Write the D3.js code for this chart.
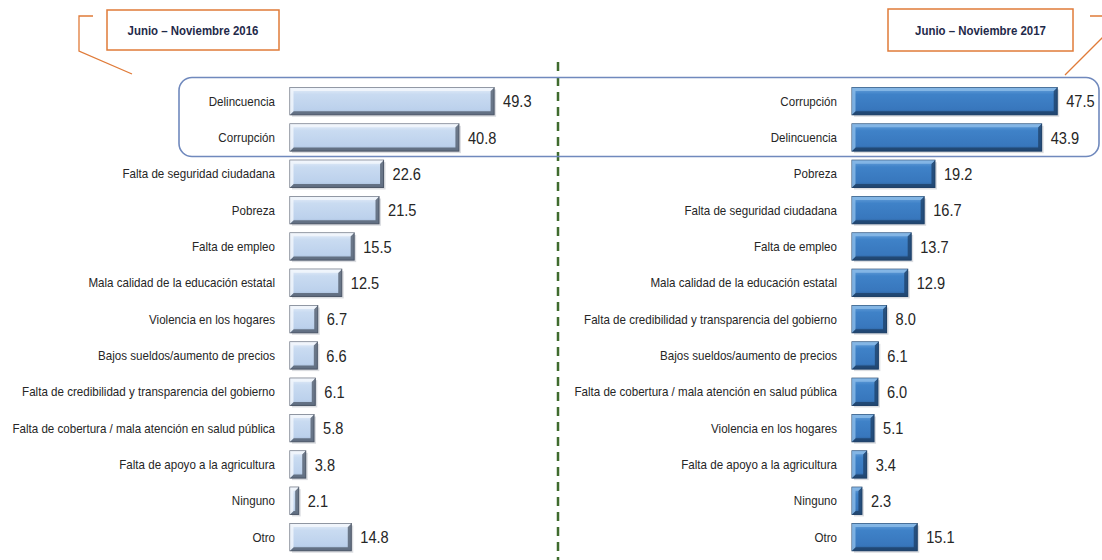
<!DOCTYPE html>
<html>
<head>
<meta charset="utf-8">
<script src="https://cdn.jsdelivr.net/npm/d3@7"></script>
<style>
  html, body { margin: 0; padding: 0; background: #ffffff; }
  svg { display: block; }
</style>
</head>
<body>
<svg id="chart" width="1102" height="560"></svg>
<script>
// ---- data ----
const categories2016 = [
  "Delincuencia", "Corrupción", "Falta de seguridad ciudadana", "Pobreza",
  "Falta de empleo", "Mala calidad de la educación estatal", "Violencia en los hogares",
  "Bajos sueldos/aumento de precios", "Falta de credibilidad y transparencia del gobierno",
  "Falta de cobertura / mala atención en salud pública", "Falta de apoyo a la agricultura",
  "Ninguno", "Otro"
];
const values2016 = [49.3, 40.8, 22.6, 21.5, 15.5, 12.5, 6.7, 6.6, 6.1, 5.8, 3.8, 2.1, 14.8];

const categories2017 = [
  "Corrupción", "Delincuencia", "Pobreza", "Falta de seguridad ciudadana",
  "Falta de empleo", "Mala calidad de la educación estatal",
  "Falta de credibilidad y transparencia del gobierno", "Bajos sueldos/aumento de precios",
  "Falta de cobertura / mala atención en salud pública", "Violencia en los hogares",
  "Falta de apoyo a la agricultura", "Ninguno", "Otro"
];
const values2017 = [47.5, 43.9, 19.2, 16.7, 13.7, 12.9, 8.0, 6.1, 6.0, 5.1, 3.4, 2.3, 15.1];

const periodLabels = ["Junio – Noviembre 2016", "Junio – Noviembre 2017"];

// ---- drawing ----
const svg = d3.select("#chart");
const FONT = "'Liberation Sans', Arial, sans-serif";

const defs = svg.append("defs");
function grad(id, stops) {
  const g = defs.append("linearGradient").attr("id", id)
    .attr("x1", 0).attr("y1", 0).attr("x2", 0).attr("y2", 1);
  stops.forEach(s => g.append("stop").attr("offset", s[0]).attr("stop-color", s[1]));
}
grad("gLeft", [[0, "#e6eef9"], [0.25, "#c9dbf1"], [0.8, "#bcd1ec"], [1, "#9fb6d4"]]);
grad("gRight", [[0, "#6aa3dc"], [0.25, "#3f82c8"], [0.8, "#3877bd"], [1, "#28598f"]]);

const n = categories2016.length;
const y0 = 83, step = 36.33;

// measure label compression so the longest label fits like the narrow original font
const LABEL_SIZE = 13;
const probe = svg.append("text").attr("font-family", FONT).attr("font-size", LABEL_SIZE)
  .text("Falta de cobertura / mala atención en salud pública");
const labelK = 263 / probe.node().getComputedTextLength();
probe.remove();
const VALUE_SIZE = 17;
const valueK = 0.86;

// dashed divider
svg.append("line")
  .attr("x1", 558).attr("x2", 558).attr("y1", 62).attr("y2", 560)
  .attr("stroke", "#3f6b2d").attr("stroke-width", 2.5)
  .attr("stroke-dasharray", "9,6");

// highlight rounded box around top two
svg.append("rect")
  .attr("x", 179).attr("y", 77.5).attr("width", 920).attr("height", 79)
  .attr("rx", 13).attr("ry", 13)
  .attr("fill", "none").attr("stroke", "#7089bd").attr("stroke-width", 1.6);

function panel(cats, vals, xStart, pxPerUnit, labelRight, gradId, dark, light) {
  const y = d3.scaleBand().domain(cats).range([y0, y0 + step * n])
    .paddingInner(0.25).paddingOuter(0.125);
  const x = d3.scaleLinear().domain([0, 50]).range([xStart, xStart + 50 * pxPerUnit]);

  const g = svg.append("g");
  const rows = g.selectAll("g.row").data(cats.map((c, i) => ({ c, v: vals[i] })))
    .join("g").attr("class", "row");

  const bw = y.bandwidth();
  // shadow
  rows.append("rect")
    .attr("x", x(0) + 2).attr("y", d => y(d.c) + 2)
    .attr("width", d => x(d.v) - x(0)).attr("height", bw)
    .attr("fill", "#b8bcc4").attr("opacity", 0.5);
  // main bar
  rows.append("rect")
    .attr("x", x(0)).attr("y", d => y(d.c))
    .attr("width", d => x(d.v) - x(0)).attr("height", bw)
    .attr("fill", `url(#${gradId})`)
    .attr("stroke", dark).attr("stroke-width", 1);
  // bevel: right and bottom dark edges
  rows.append("path")
    .attr("d", d => {
      const xa = x(0), xb = x(d.v), ya = y(d.c), yb = y(d.c) + bw, b = 3.5;
      return `M${xb},${ya} L${xb},${yb} L${xa},${yb} L${xa + b},${yb - b} L${xb - b},${yb - b} L${xb - b},${ya + b} Z`;
    })
    .attr("fill", dark).attr("opacity", 0.75);
  // bevel: left and top light edges
  rows.append("path")
    .attr("d", d => {
      const xa = x(0), xb = x(d.v), ya = y(d.c), yb = y(d.c) + bw, b = 3.5;
      return `M${xa},${yb} L${xa},${ya} L${xb},${ya} L${xb - b},${ya + b} L${xa + b},${ya + b} L${xa + b},${yb - b} Z`;
    })
    .attr("fill", light).attr("opacity", 0.8);

  // category labels (horizontally condensed)
  rows.append("text")
    .attr("transform", d => `translate(${labelRight},${y(d.c) + bw / 2}) scale(${labelK},1)`)
    .attr("dy", "0.35em").attr("text-anchor", "end")
    .attr("font-family", FONT).attr("font-size", LABEL_SIZE).attr("fill", "#262626")
    .text(d => d.c);

  // value labels (condensed)
  rows.append("text")
    .attr("transform", d => `translate(${x(d.v) + 9},${y(d.c) + bw / 2}) scale(${valueK},1)`)
    .attr("dy", "0.36em")
    .attr("font-family", FONT).attr("font-size", VALUE_SIZE).attr("fill", "#262626")
    .text(d => d.v.toFixed(1));
}

panel(categories2016, values2016, 290, 4.14, 275, "gLeft", "#4b5566", "#f4f8fd");
panel(categories2017, values2017, 852, 4.32, 837, "gRight", "#1d3f66", "#8dbde9");

// callout boxes
const orange = "#e07b39";
function callout(x, yTop, w, h, label, pathD) {
  svg.append("path").attr("d", pathD).attr("fill", "none")
    .attr("stroke", orange).attr("stroke-width", 1.3);
  svg.append("rect").attr("x", x).attr("y", yTop).attr("width", w).attr("height", h)
    .attr("fill", "#ffffff").attr("stroke", orange).attr("stroke-width", 1.5);
  svg.append("text")
    .attr("transform", `translate(${x + w / 2},${yTop + h / 2}) scale(0.88,1)`)
    .attr("dy", "0.35em").attr("text-anchor", "middle")
    .attr("font-family", FONT).attr("font-size", 13).attr("font-weight", "bold")
    .attr("fill", "#1f2a4a").text(label);
}
callout(107, 10, 172, 40, periodLabels[0], "M93,16 L79,16 L79,51 L132,74");
callout(888, 9, 185, 42, periodLabels[1], "M1090,16 L1112,16 L1112,28 L1065,75");
</script>
</body>
</html>
